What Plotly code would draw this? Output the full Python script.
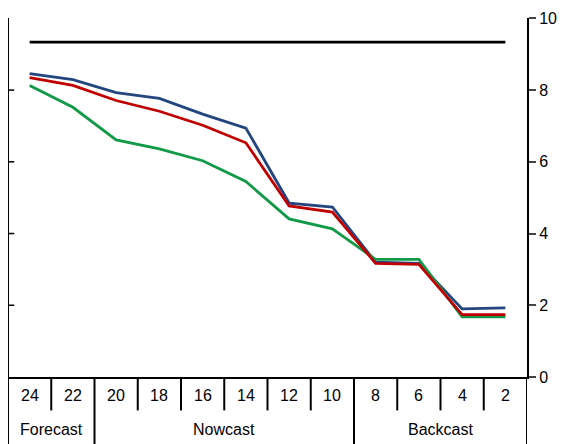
import plotly.graph_objects as go

cats = ["24", "22", "20", "18", "16", "14", "12", "10", "8", "6", "4", "2"]
black = [9.34] * 12
blue = [8.46, 8.29, 7.93, 7.77, 7.33, 6.94, 4.85, 4.74, 3.2, 3.17, 1.9, 1.93]
red = [8.35, 8.13, 7.71, 7.41, 7.02, 6.53, 4.77, 4.6, 3.17, 3.14, 1.74, 1.74]
green = [8.13, 7.52, 6.61, 6.36, 6.03, 5.45, 4.41, 4.13, 3.28, 3.28, 1.68, 1.68]
groups = [("Forecast", 0, 1), ("Nowcast", 2, 7), ("Backcast", 8, 11)]

fig = go.Figure()
for y, c in [(black, "#000000"), (blue, "#24467f"), (green, "#109a48"), (red, "#c00000")]:
    fig.add_trace(go.Scatter(x=list(range(12)), y=y, mode="lines",
                             line=dict(color=c, width=2.8), showlegend=False))

ph = 359
row1 = -37 / ph
row2 = -67 / ph
shapes = []
ann = []
for i, c in enumerate(cats):
    ann.append(dict(x=i, y=(0 + row1) / 2, xref="x", yref="paper", text=c, yanchor="middle",
                    showarrow=False, font=dict(size=16, color="black")))
for i in range(13):
    x = i - 0.5
    bottom = row2 if x in (-0.5, 1.5, 7.5, 11.5) else row1 + 0.01
    shapes.append(dict(type="line", xref="x", yref="paper", x0=x, x1=x, y0=0, y1=bottom,
                       line=dict(color="black", width=2)))
for name, a, b in groups:
    ann.append(dict(x=(a + b) / 2, y=(row1 + row2) / 2, xref="x", yref="paper", text=name,
                    yanchor="middle", showarrow=False, font=dict(size=16, color="black")))
# left inward ticks
for v in [2, 4, 6, 8]:
    shapes.append(dict(type="line", xref="paper", yref="y", x0=0, x1=0.012, y0=v, y1=v,
                       line=dict(color="black", width=1.5)))

fig.update_layout(
    width=560, height=436, margin=dict(l=0, r=41, t=10, b=67),
    plot_bgcolor="white", paper_bgcolor="white",
    font=dict(family="Liberation Sans, Arial", size=16, color="black"),
    xaxis=dict(range=[-0.5, 11.5], showticklabels=False, showgrid=False, zeroline=False,
               showline=True, linecolor="black", linewidth=2, mirror=False),
    yaxis=dict(range=[0, 10.01], side="right", tickvals=[0, 2, 4, 6, 8, 10], ticks="outside",
               ticklen=7, tickwidth=1.5, showgrid=False, zeroline=False, showline=True,
               linecolor="black", linewidth=2),
    shapes=shapes, annotations=ann,
)
fig.add_shape(type="line", xref="paper", yref="paper", x0=0, x1=0, y0=0, y1=1,
              line=dict(color="black", width=2))
fig.write_html("out.html")
